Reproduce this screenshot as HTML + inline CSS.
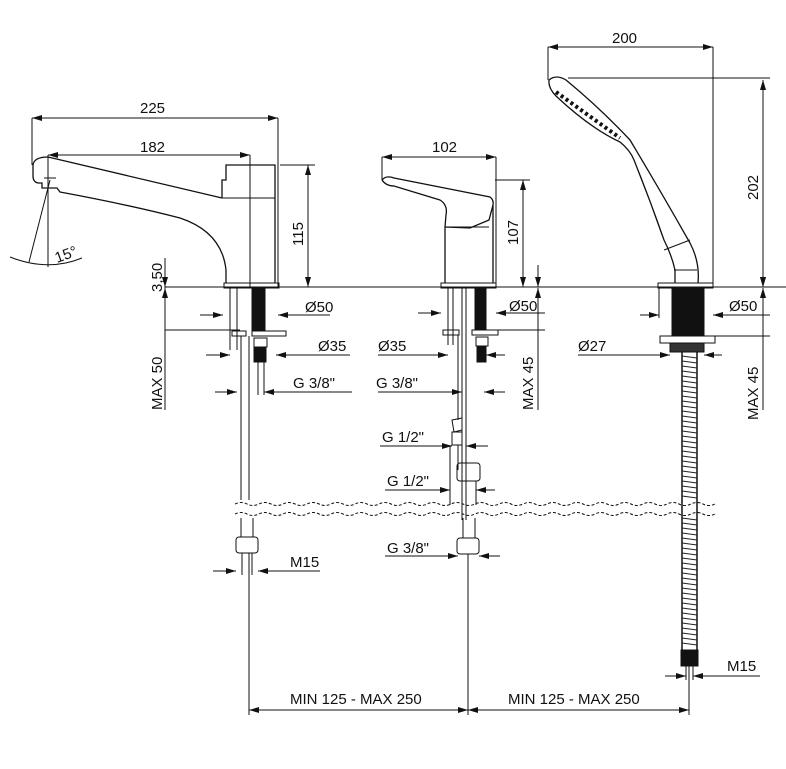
<!DOCTYPE html>
<html><head><meta charset="utf-8"><style>
html,body{margin:0;padding:0;background:#fff}
svg{display:block}
text{font-family:"Liberation Sans Narrow","Liberation Sans",sans-serif;font-size:15px;fill:#111}
</style></head><body>
<svg width="786" height="769" viewBox="0 0 786 769" xmlns="http://www.w3.org/2000/svg">
<defs>
<marker id="a" viewBox="0 0 10 6" refX="10" refY="3" markerWidth="14" markerHeight="6" markerUnits="userSpaceOnUse" orient="auto-start-reverse"><path d="M0,0L10,3L0,6z" fill="#111"/></marker>
</defs>
<g stroke="#111" stroke-width="1" fill="none">
<!-- deck -->
<line x1="165" y1="287" x2="786" y2="287"/>
<!-- FAUCET 1 -->
<path d="M48,157 Q34,157 33,165 L33,176 Q33,182 38,183 L42,183 L42,188 L57,188 L60,192 Q130,205 180,218 Q222,232 226,270 L226,283" stroke-width="1.3"/>
<path d="M48,157 L222,198" stroke-width="1.3"/>
<path d="M222,198 L222,180 L226,180 L226,165 L275,165 L275,283" stroke-width="1.3"/>
<line x1="222" y1="198" x2="275" y2="198"/>
<rect x="224" y="283" width="55" height="5"/>
<line x1="250" y1="155" x2="250" y2="287"/>
<line x1="278" y1="118" x2="278" y2="287"/>
<line x1="32" y1="118" x2="32" y2="165"/>
<line x1="48" y1="155" x2="48" y2="267"/>
<line x1="50" y1="180" x2="29" y2="262"/>
<line x1="44" y1="178" x2="56" y2="178"/>
<path d="M10,257 Q48,272 82,258"/>
<line x1="32" y1="118" x2="278" y2="118" marker-start="url(#a)" marker-end="url(#a)"/>
<line x1="48" y1="155" x2="250" y2="155" marker-start="url(#a)" marker-end="url(#a)"/>
<line x1="280" y1="165" x2="315" y2="165"/>
<line x1="308" y1="165" x2="308" y2="287" marker-start="url(#a)" marker-end="url(#a)"/>
<!-- below deck 1 -->
<line x1="230" y1="288" x2="230" y2="350"/><line x1="237" y1="288" x2="237" y2="350"/>
<rect x="252" y="288" width="13" height="42" fill="#111"/>
<rect x="232" y="331" width="14" height="5"/><rect x="252" y="331" width="34" height="5"/>
<rect x="254" y="338" width="13" height="9"/>
<rect x="254" y="347" width="12" height="15" fill="#111"/>
<line x1="241" y1="336" x2="241" y2="500"/><line x1="249" y1="336" x2="249" y2="500"/>
<line x1="258" y1="362" x2="258" y2="395"/><line x1="264" y1="362" x2="264" y2="395"/>
<line x1="241" y1="518" x2="241" y2="537"/><line x1="253" y1="518" x2="253" y2="537"/>
<rect x="236" y="537" width="22" height="16" rx="3"/>
<line x1="242" y1="553" x2="242" y2="575"/><line x1="252" y1="553" x2="252" y2="575"/>
<line x1="249" y1="553" x2="249" y2="715"/>
<line x1="200" y1="315" x2="223" y2="315" marker-end="url(#a)"/><line x1="300" y1="315" x2="278" y2="315" marker-end="url(#a)"/><line x1="300" y1="315" x2="330" y2="315"/>
<line x1="206" y1="355" x2="230" y2="355" marker-end="url(#a)"/><line x1="300" y1="355" x2="276" y2="355" marker-end="url(#a)"/><line x1="300" y1="355" x2="350" y2="355"/>
<line x1="215" y1="392" x2="237" y2="392" marker-end="url(#a)"/><line x1="285" y1="392" x2="264" y2="392" marker-end="url(#a)"/><line x1="285" y1="392" x2="352" y2="392"/>
<line x1="165" y1="287" x2="165" y2="410"/>
<line x1="165" y1="258" x2="165" y2="287" marker-end="url(#a)"/>
<line x1="165" y1="330" x2="165" y2="288" marker-end="url(#a)"/>
<line x1="165" y1="330" x2="240" y2="330"/>
<line x1="213" y1="571" x2="236" y2="571" marker-end="url(#a)"/><line x1="280" y1="571" x2="258" y2="571" marker-end="url(#a)"/><line x1="280" y1="571" x2="320" y2="571"/>
<!-- FAUCET 2 -->
<path d="M382,180 Q386,175 394,178 L490,197 Q494,200 493,205 L489,220 L470,228 L445,227" stroke-width="1.3"/>
<path d="M382,180 Q386,186 394,186 L440,200 Q448,205 446,215 L445,227" stroke-width="1.3"/>
<path d="M445,227 L445,283 M493,205 L493,283" stroke-width="1.3"/>
<line x1="445" y1="227" x2="489" y2="227"/>
<rect x="441" y="283" width="55" height="5"/>
<line x1="382" y1="157" x2="382" y2="180"/>
<line x1="496" y1="157" x2="496" y2="287"/>
<line x1="382" y1="157" x2="496" y2="157" marker-start="url(#a)" marker-end="url(#a)"/>
<line x1="495" y1="180" x2="530" y2="180"/>
<line x1="523" y1="180" x2="523" y2="287" marker-start="url(#a)" marker-end="url(#a)"/>
<line x1="448" y1="288" x2="448" y2="345"/><line x1="453" y1="288" x2="453" y2="345"/>
<rect x="475" y="288" width="11" height="42" fill="#111"/>
<rect x="443" y="330" width="16" height="5"/><rect x="472" y="330" width="26" height="5"/>
<rect x="476" y="337" width="12" height="9"/>
<rect x="477" y="346" width="9" height="16" fill="#111"/>
<line x1="462" y1="288" x2="462" y2="520"/><line x1="466" y1="288" x2="466" y2="520"/>
<line x1="458" y1="335" x2="458" y2="420"/><line x1="466" y1="365" x2="466" y2="400"/>
<path d="M452,420 L462,418 L462,430 L454,432 Z M452,432 L462,432 L462,445 L452,445 Z"/>
<line x1="450" y1="445" x2="450" y2="505"/><line x1="458" y1="445" x2="458" y2="470"/>
<rect x="457" y="463" width="23" height="18" rx="3"/>
<line x1="462" y1="481" x2="462" y2="505"/><line x1="476" y1="481" x2="476" y2="505"/>
<line x1="463" y1="518" x2="463" y2="538"/><line x1="475" y1="518" x2="475" y2="538"/>
<rect x="457" y="538" width="22" height="16" rx="3"/>
<line x1="468" y1="554" x2="468" y2="715"/>
<line x1="418" y1="313" x2="441" y2="313" marker-end="url(#a)"/><line x1="520" y1="313" x2="496" y2="313" marker-end="url(#a)"/><line x1="496" y1="313" x2="545" y2="313"/>
<line x1="498" y1="330" x2="545" y2="330"/>
<line x1="378" y1="355" x2="448" y2="355" marker-end="url(#a)"/><line x1="505" y1="355" x2="486" y2="355" marker-end="url(#a)"/>
<line x1="378" y1="392" x2="462" y2="392" marker-end="url(#a)"/><line x1="505" y1="392" x2="484" y2="392" marker-end="url(#a)"/>
<line x1="380" y1="446" x2="452" y2="446" marker-end="url(#a)"/><line x1="488" y1="446" x2="466" y2="446" marker-end="url(#a)"/>
<line x1="385" y1="490" x2="450" y2="490" marker-end="url(#a)"/><line x1="495" y1="490" x2="476" y2="490" marker-end="url(#a)"/>
<line x1="385" y1="556" x2="458" y2="556" marker-end="url(#a)"/><line x1="500" y1="556" x2="479" y2="556" marker-end="url(#a)"/>
<line x1="538" y1="265" x2="538" y2="287" marker-end="url(#a)"/>
<line x1="538" y1="350" x2="538" y2="288" marker-end="url(#a)"/>
<line x1="538" y1="330" x2="538" y2="410"/>
<!-- SHOWER -->
<path d="M549,80 Q556,74 566,80 Q600,108 630,140 Q660,190 690,243 Q700,262 698,283" stroke-width="1.3"/>
<path d="M549,80 Q548,88 556,96 Q590,128 620,142 Q630,150 634,160 Q650,200 664,240 Q672,256 675,270 L675,283" stroke-width="1.3"/>
<path d="M556,92 L620,138" stroke="#111" stroke-width="4" stroke-dasharray="3,3"/>
<line x1="664" y1="250" x2="690" y2="240"/>
<line x1="674" y1="270" x2="697" y2="270"/>
<rect x="658" y="283" width="55" height="5"/>
<line x1="548" y1="47" x2="548" y2="80"/>
<line x1="713" y1="47" x2="713" y2="287"/>
<line x1="548" y1="47" x2="713" y2="47" marker-start="url(#a)" marker-end="url(#a)"/>
<line x1="568" y1="78" x2="770" y2="78"/>
<line x1="763" y1="80" x2="763" y2="287" marker-start="url(#a)" marker-end="url(#a)"/>
<line x1="659" y1="288" x2="659" y2="318"/>
<rect x="672" y="288" width="32" height="48" fill="#111"/>
<rect x="660" y="336" width="55" height="7"/>
<rect x="670" y="343" width="34" height="9" fill="#333"/>
<rect x="682" y="352" width="15" height="298" fill="#fff"/>
<line x1="682" y1="352" x2="682" y2="650" stroke-width="1.5"/><line x1="697" y1="352" x2="697" y2="650" stroke-width="1.5"/>
<path d="M682,352 L697,352" stroke="#555" stroke-width="298" stroke-dasharray="1.2,2.2" transform="translate(0,0)" opacity="0"/>
<rect x="681" y="650" width="17" height="16" fill="#111"/>
<line x1="686" y1="666" x2="686" y2="680"/><line x1="693" y1="666" x2="693" y2="680"/>
<line x1="689" y1="666" x2="689" y2="715"/>
<line x1="640" y1="315" x2="659" y2="315" marker-end="url(#a)"/><line x1="735" y1="315" x2="713" y2="315" marker-end="url(#a)"/><line x1="713" y1="315" x2="770" y2="315"/>
<line x1="715" y1="336" x2="770" y2="336"/>
<line x1="578" y1="355" x2="670" y2="355" marker-end="url(#a)"/><line x1="722" y1="355" x2="704" y2="355" marker-end="url(#a)"/>
<line x1="763" y1="265" x2="763" y2="287" marker-end="url(#a)"/>
<line x1="763" y1="360" x2="763" y2="288" marker-end="url(#a)"/>
<line x1="763" y1="330" x2="763" y2="410"/>
<line x1="665" y1="676" x2="686" y2="676" marker-end="url(#a)"/><line x1="715" y1="676" x2="693" y2="676" marker-end="url(#a)"/><line x1="715" y1="676" x2="760" y2="676"/>
<!-- MIN dims -->
<line x1="249" y1="710" x2="468" y2="710" marker-start="url(#a)" marker-end="url(#a)"/>
<line x1="468" y1="710" x2="689" y2="710" marker-start="url(#a)" marker-end="url(#a)"/>
<!-- break lines -->
<path d="M235,504 q6,-3 12,0 t12,0 t12,0 t12,0 t12,0 t12,0 t12,0 t12,0 t12,0 t12,0 t12,0 t12,0 t12,0 t12,0 t12,0 t12,0 t12,0 t12,0 t12,0 t12,0 t12,0 t12,0 t12,0 t12,0 t12,0 t12,0 t12,0 t12,0 t12,0 t12,0 t12,0 t12,0 t12,0 t12,0 t12,0 t12,0 t12,0 t12,0 t12,0 t12,0" stroke-dasharray="3,2"/>
<path d="M235,514 q6,-3 12,0 t12,0 t12,0 t12,0 t12,0 t12,0 t12,0 t12,0 t12,0 t12,0 t12,0 t12,0 t12,0 t12,0 t12,0 t12,0 t12,0 t12,0 t12,0 t12,0 t12,0 t12,0 t12,0 t12,0 t12,0 t12,0 t12,0 t12,0 t12,0 t12,0 t12,0 t12,0 t12,0 t12,0 t12,0 t12,0 t12,0 t12,0 t12,0 t12,0" stroke-dasharray="3,2"/>
</g>
<!-- hose rings -->
<g stroke="#222" stroke-width="1">
<path d="M682,356 L697,358 M682,361 L697,363 M682,366 L697,368 M682,371 L697,373 M682,376 L697,378 M682,381 L697,383 M682,386 L697,388 M682,391 L697,393 M682,396 L697,398 M682,401 L697,403 M682,406 L697,408 M682,411 L697,413 M682,416 L697,418 M682,421 L697,423 M682,426 L697,428 M682,431 L697,433 M682,436 L697,438 M682,441 L697,443 M682,446 L697,448 M682,451 L697,453 M682,456 L697,458 M682,461 L697,463 M682,466 L697,468 M682,471 L697,473 M682,476 L697,478 M682,481 L697,483 M682,486 L697,488 M682,491 L697,493 M682,496 L697,498 M682,518 L697,520 M682,523 L697,525 M682,528 L697,530 M682,533 L697,535 M682,538 L697,540 M682,543 L697,545 M682,548 L697,550 M682,553 L697,555 M682,558 L697,560 M682,563 L697,565 M682,568 L697,570 M682,573 L697,575 M682,578 L697,580 M682,583 L697,585 M682,588 L697,590 M682,593 L697,595 M682,598 L697,600 M682,603 L697,605 M682,608 L697,610 M682,613 L697,615 M682,618 L697,620 M682,623 L697,625 M682,628 L697,630 M682,633 L697,635 M682,638 L697,640 M682,643 L697,645"/>
</g>
<g>
<text x="140" y="113">225</text>
<text x="140" y="152">182</text>
<text x="57" y="263" transform="rotate(-20 57 263)">15°</text>
<text transform="translate(303,246) rotate(-90)">115</text>
<text transform="translate(162,292) rotate(-90)">3,50</text>
<text transform="translate(162,410) rotate(-90)">MAX 50</text>
<text x="305" y="312">Ø50</text>
<text x="318" y="351">Ø35</text>
<text x="293" y="388">G 3/8"</text>
<text x="290" y="567">M15</text>
<text x="432" y="152">102</text>
<text transform="translate(518,245) rotate(-90)">107</text>
<text x="509" y="311">Ø50</text>
<text x="378" y="351">Ø35</text>
<text x="376" y="388">G 3/8"</text>
<text x="382" y="442">G 1/2"</text>
<text x="387" y="486">G 1/2"</text>
<text x="387" y="553">G 3/8"</text>
<text transform="translate(533,410) rotate(-90)">MAX 45</text>
<text x="612" y="43">200</text>
<text transform="translate(758,200) rotate(-90)">202</text>
<text x="729" y="311">Ø50</text>
<text x="578" y="351">Ø27</text>
<text transform="translate(758,420) rotate(-90)">MAX 45</text>
<text x="727" y="671">M15</text>
<text x="290" y="704">MIN 125 - MAX 250</text>
<text x="508" y="704">MIN 125 - MAX 250</text>
</g>
</svg>
</body></html>
